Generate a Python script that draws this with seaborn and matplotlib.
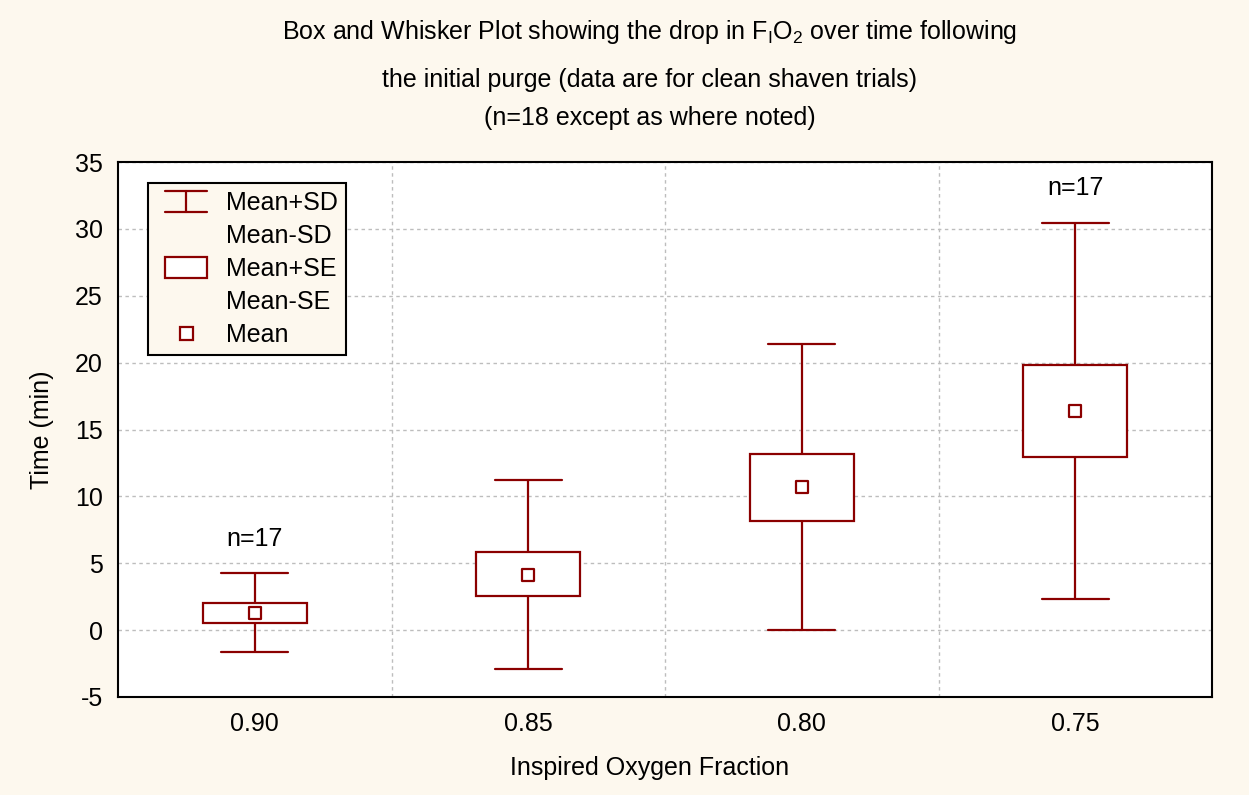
import matplotlib
matplotlib.use("Agg")
import matplotlib.pyplot as plt
import numpy as np
import pandas as pd
import seaborn as sns
from matplotlib.legend_handler import HandlerBase
from matplotlib.lines import Line2D
from matplotlib.patches import Rectangle

# values (minutes)
fractions = ["0.90", "0.85", "0.80", "0.75"]
mean_val = [1.25, 4.11, 10.68, 16.38]
sd_low = [-1.67, -2.89, 0.0, 2.32]
sd_high = [4.24, 11.2, 21.36, 30.45]
se_low = [0.5, 2.54, 8.17, 12.96]
se_high = [2.04, 5.83, 13.2, 19.79]
n_labels = ["n=17", "", "", "n=17"]

RED = "#8b0000"
BG = "#fdf8ee"
FS = 18

sns.set_style("white")
plt.rcParams["font.family"] = ["Liberation Sans", "DejaVu Sans"]
plt.rcParams["mathtext.fontset"] = "custom"
plt.rcParams["mathtext.rm"] = "Liberation Sans"
plt.rcParams["mathtext.it"] = "Liberation Sans"
plt.rcParams["axes.unicode_minus"] = False
for key in ("text.color", "axes.labelcolor", "xtick.color", "ytick.color"):
    plt.rcParams[key] = "black"

# five points per group -> quartiles land on mean-SE / mean+SE, extremes on mean+-SD
rows = []
for i, f in enumerate(fractions):
    for v in (sd_low[i], se_low[i], mean_val[i], se_high[i], sd_high[i]):
        rows.append({"fraction": f, "time": v})
df = pd.DataFrame(rows)

fig = plt.figure(figsize=(12.49, 7.95), dpi=100, facecolor=BG)
ax = fig.add_axes([118 / 1249, 1 - 697 / 795, 1094 / 1249, 535 / 795])
ax.set_facecolor("white")

sns.boxplot(data=df, x="fraction", y="time", order=fractions, ax=ax,
            whis=(0, 100), width=0.38, color="white", linecolor=RED,
            linewidth=1.6, saturation=1, showfliers=False,
            medianprops={"visible": False}, capwidths=0.244)
sns.scatterplot(x=fractions, y=mean_val, ax=ax, marker="s", s=85,
                facecolor="white", edgecolor=RED, linewidth=1.6, zorder=5)

for i, lab in enumerate(n_labels):
    if lab:
        ax.text(i, sd_high[i] + 2.6, lab, ha="center", va="center", fontsize=FS)

ax.set_xlim(-0.5, 3.5)
ax.set_ylim(-5, 35)
ax.set_yticks(np.arange(-5, 36, 5))
ax.set_xticks([0.5, 1.5, 2.5], minor=True)
ax.grid(False)
ax.yaxis.grid(True, which="major", color="#bdbdbd", linestyle=(0, (2.5, 2.5)), linewidth=1)
ax.xaxis.grid(True, which="minor", color="#bdbdbd", linestyle=(0, (2.5, 2.5)), linewidth=1)
ax.set_axisbelow(True)
ax.tick_params(axis="both", which="major", length=0, labelsize=FS, pad=11)
ax.tick_params(axis="x", which="minor", direction="in", length=4, color="black")
for sp in ax.spines.values():
    sp.set_color("black")
    sp.set_linewidth(1.5)

ax.set_xlabel("Inspired Oxygen Fraction", fontsize=FS)
ax.set_ylabel("Time (min)", fontsize=FS)
ax.xaxis.label.set_va("center")
ax.xaxis.set_label_coords(532 / 1094, -(768 - 697) / 535)
ax.yaxis.set_label_coords(-(118 - 54) / 1094, 0.5)


class GlyphHandler(HandlerBase):
    """legend glyphs drawn right-aligned in the handle box (sizes in points)"""

    def __init__(self, kind):
        super().__init__()
        self.kind = kind

    def create_artists(self, legend, orig_handle, xdescent, ydescent,
                       width, height, fontsize, trans):
        x1 = -xdescent + width
        x0 = x1 - 30.2
        xm = (x0 + x1) / 2
        ym = -ydescent + height / 2
        h = 15.1
        if self.kind == "sd":
            arts = [Line2D([x0, x1], [ym + h / 2] * 2), Line2D([xm, xm], [ym - h / 2, ym + h / 2]),
                    Line2D([x0, x1], [ym - h / 2] * 2)]
            for a in arts:
                a.set_color(RED)
                a.set_linewidth(1.6)
        elif self.kind == "se":
            arts = [Rectangle((x0, ym - h / 2), x1 - x0, h, facecolor="white",
                              edgecolor=RED, linewidth=1.6)]
        elif self.kind == "mean":
            s = 9.4
            arts = [Rectangle((xm - s / 2, ym - s / 2), s, s, facecolor="white",
                              edgecolor=RED, linewidth=1.6)]
        else:
            arts = [Line2D([x0, x1], [ym, ym], visible=False)]
        for a in arts:
            a.set_transform(trans)
        return arts


handles = [Line2D([], []) for _ in range(5)]
kinds = ["sd", "blank", "se", "blank", "mean"]
leg = ax.legend(handles, ["Mean+SD", "Mean-SD", "Mean+SE", "Mean-SE", "Mean"],
                handler_map={h: GlyphHandler(k) for h, k in zip(handles, kinds)},
                loc="upper left", bbox_to_anchor=(30 / 1094, 1 - 21 / 535),
                borderaxespad=0, fontsize=FS, handlelength=2.05,
                handletextpad=0.76, labelspacing=0.36, borderpad=0.32,
                fancybox=False, framealpha=1, facecolor=BG, edgecolor="black")
leg.get_frame().set_linewidth(1.5)

fig.text(650 / 1249, 1 - 32 / 795,
         r"Box and Whisker Plot showing the drop in F$_\mathrm{I}$O$_2$ over time following",
         ha="center", va="center", fontsize=FS)
fig.text(650 / 1249, 1 - 80 / 795,
         "the initial purge (data are for clean shaven trials)",
         ha="center", va="center", fontsize=FS)
fig.text(650 / 1249, 1 - 118 / 795, "(n=18 except as where noted)",
         ha="center", va="center", fontsize=FS)

fig.savefig("out.png", dpi=100, facecolor=BG)
